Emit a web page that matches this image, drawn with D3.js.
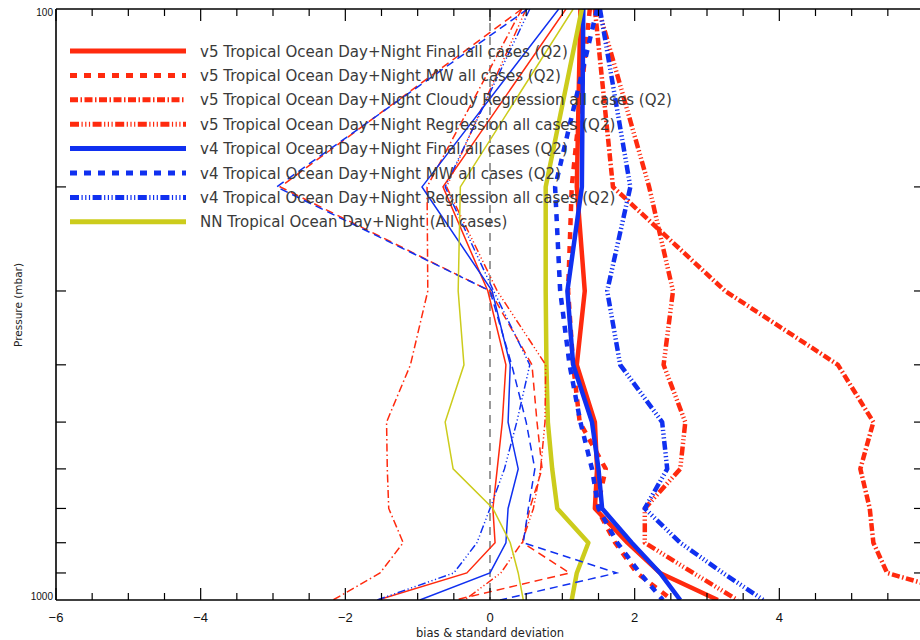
<!DOCTYPE html>
<html><head><meta charset="utf-8">
<script src="https://cdn.jsdelivr.net/npm/d3@7"></script>
<style>html,body{margin:0;padding:0;background:#fff;}svg{display:block;}</style>
</head><body>
<svg id="chart" width="920" height="640"></svg>
<script>
// ---- data ----
const pressure = [100, 200, 300, 400, 500, 600, 700, 800, 900, 1000];

// biases (thin lines)
const v5FinalBias   = [1.05, -0.65, -0.03, 0.22, 0.17, 0.10, 0.04, 0.07, -0.32, -1.55];
const v5MWBias      = [0.44, -2.90, 0.00, 0.58, 0.65, 0.72, 0.55, 0.45, 1.10, -0.48];
const v5CloudyBias  = [0.44, -0.87, -0.86, -1.10, -1.43, -1.42, -1.40, -1.20, -1.52, -2.17];
const v5RegBias     = [0.50, -0.60, 0.10, 0.77, 0.76, 0.70, 0.60, 0.44, 0.15, -0.35];
const v4FinalBias   = [0.95, -0.94, 0.03, 0.28, 0.25, 0.39, 0.25, 0.22, 0.00, -0.97];
const v4MWBias      = [0.52, -2.95, 0.00, 0.30, 0.50, 0.62, 0.53, 0.46, 1.75, 0.14];
const v4RegBias     = [0.55, -0.62, 0.05, 0.55, 0.37, 0.20, 0.00, -0.18, -0.50, -1.56];
const nnBias        = [1.15, -0.41, -0.44, -0.36, -0.62, -0.51, 0.04, 0.28, 0.39, 0.46];

// standard deviations (thick lines)
const v5FinalStd    = [1.25, 1.20, 1.31, 1.20, 1.45, 1.48, 1.45, 1.90, 2.35, 3.15];
const v5MWStd       = [1.38, 1.13, 1.08, 1.15, 1.24, 1.60, 1.48, 1.73, 2.03, 2.52];
const v5CloudyStd   = [1.45, 1.70, 3.25, 4.81, 5.30, 5.12, 5.25, 5.30, 5.49, 6.80];
const v5RegStd      = [1.50, 2.20, 2.53, 2.40, 2.70, 2.63, 2.14, 2.14, 2.81, 3.42];
const v4FinalStd    = [1.29, 1.27, 1.07, 1.15, 1.41, 1.50, 1.55, 1.96, 2.35, 2.63];
const v4MWStd       = [1.48, 0.90, 0.97, 1.10, 1.25, 1.41, 1.50, 1.76, 2.07, 2.39];
const v4RegStd      = [1.52, 1.94, 1.62, 1.80, 2.38, 2.45, 2.14, 2.63, 3.22, 3.78];
const nnStd         = [1.27, 0.77, 0.77, 0.78, 0.80, 0.86, 0.93, 1.36, 1.20, 1.13];

const legendLabels = [
  "v5 Tropical Ocean Day+Night Final all cases (Q2)",
  "v5 Tropical Ocean Day+Night MW all cases (Q2)",
  "v5 Tropical Ocean Day+Night Cloudy Regression all cases (Q2)",
  "v5 Tropical Ocean Day+Night Regression all cases (Q2)",
  "v4 Tropical Ocean Day+Night Final all cases (Q2)",
  "v4 Tropical Ocean Day+Night MW all cases (Q2)",
  "v4 Tropical Ocean Day+Night Regression all cases (Q2)",
  "NN Tropical Ocean Day+Night (All cases)"
];
const xTickValues = [-6, -4, -2, 0, 2, 4];
const yLabelValues = [100, 1000];
const xTitle = "bias & standard deviation";
const yTitle = "Pressure (mbar)";

// ---- styles ----
const RED = "#ff2a0e", BLUE = "#1030f0", YEL = "#cccc1c";
const styleDefs = [
  {color: RED,  dash: null},
  {color: RED,  dash: "7,7"},
  {color: RED,  dash: "8,2.5,1.5,2.5"},
  {color: RED,  dash: "9,2.5,1.2,2.5,1.2,2.5,1.2,2.5"},
  {color: BLUE, dash: null},
  {color: BLUE, dash: "7,7"},
  {color: BLUE, dash: "9,2.5,1.2,2.5,1.2,2.5,1.2,2.5"},
  {color: YEL,  dash: null}
];
const thinDash = [null, "8,5", "8,3,1.5,3", "8,2.5,1.2,2.5,1.2,2.5,1.2,2.5", null, "8,5", "8,2.5,1.2,2.5,1.2,2.5,1.2,2.5", null];
const biasSeries = [v5FinalBias, v5MWBias, v5CloudyBias, v5RegBias, v4FinalBias, v4MWBias, v4RegBias, nnBias];
const stdSeries  = [v5FinalStd, v5MWStd, v5CloudyStd, v5RegStd, v4FinalStd, v4MWStd, v4RegStd, nnStd];

// ---- layout ----
const svg = d3.select("#chart");
const L = 56, R = 924, T = 9, B = 600;
const x = d3.scaleLinear().domain([-6, 6]).range([L, R]);
const y = d3.scaleLog().domain([100, 1000]).range([T, B]);

svg.append("defs").append("clipPath").attr("id", "clip")
  .append("rect").attr("x", L).attr("y", T).attr("width", R - L).attr("height", B - T);

const plot = svg.append("g").attr("clip-path", "url(#clip)");

// zero line
plot.append("line")
  .attr("x1", x(0)).attr("x2", x(0)).attr("y1", y(100)).attr("y2", y(1000))
  .attr("stroke", "#555").attr("stroke-width", 1.2).attr("stroke-dasharray", "8,6");

const line = d3.line().x(d => x(d[0])).y(d => y(d[1]));

// thick std lines
stdSeries.forEach((s, i) => {
  plot.append("path")
    .attr("d", line(s.map((v, k) => [v, pressure[k]])))
    .attr("fill", "none").attr("stroke", styleDefs[i].color)
    .attr("stroke-width", 4.5)
    .attr("stroke-dasharray", styleDefs[i].dash)
    .attr("stroke-linejoin", "round");
});
// thin bias lines
biasSeries.forEach((s, i) => {
  plot.append("path")
    .attr("d", line(s.map((v, k) => [v, pressure[k]])))
    .attr("fill", "none").attr("stroke", styleDefs[i].color)
    .attr("stroke-width", 1.5)
    .attr("stroke-dasharray", thinDash[i]);
});

// ---- axes ----
const axisG = svg.append("g").attr("stroke", "#000").attr("stroke-width", 1.6);
axisG.append("line").attr("x1", L).attr("x2", R).attr("y1", T).attr("y2", T);
axisG.append("line").attr("x1", L).attr("x2", R).attr("y1", B).attr("y2", B);
axisG.append("line").attr("x1", L).attr("x2", L).attr("y1", T).attr("y2", B);
axisG.append("line").attr("x1", R).attr("x2", R).attr("y1", T).attr("y2", B);

const minorX = d3.range(-6, 6.01, 0.5);
const tickG = svg.append("g").attr("stroke", "#000").attr("stroke-width", 1.2);
minorX.forEach(v => {
  const major = Math.abs(v / 2 - Math.round(v / 2)) < 1e-6;
  const len = major ? 12 : 7;
  tickG.append("line").attr("x1", x(v)).attr("x2", x(v)).attr("y1", B).attr("y2", B - len);
  tickG.append("line").attr("x1", x(v)).attr("x2", x(v)).attr("y1", T).attr("y2", T + len);
});
const minorY = [200, 300, 400, 500, 600, 700, 800, 900];
minorY.forEach(p => {
  tickG.append("line").attr("x1", L).attr("x2", L + 10).attr("y1", y(p)).attr("y2", y(p));
  tickG.append("line").attr("x1", R).attr("x2", R - 10).attr("y1", y(p)).attr("y2", y(p));
});

const font = "'Liberation Sans', Arial, sans-serif";
svg.append("g").selectAll("text").data(xTickValues).join("text")
  .attr("x", d => x(d)).attr("y", 622)
  .attr("text-anchor", "middle").attr("font-family", font).attr("font-size", 13)
  .attr("fill", "#111")
  .text(d => d < 0 ? "\u2212" + Math.abs(d) : String(d));

svg.append("g").selectAll("text").data(yLabelValues).join("text")
  .attr("x", 53).attr("y", d => d === 100 ? y(d) + 7 : y(d))
  .attr("text-anchor", "end").attr("font-family", font).attr("font-size", 10)
  .attr("fill", "#111")
  .text(d => d);

svg.append("text").attr("x", x(0)).attr("y", 637).attr("text-anchor", "middle")
  .attr("font-family", "'DejaVu Sans', sans-serif").attr("font-size", 11.5).attr("fill", "#222")
  .text(xTitle);
svg.append("text").attr("transform", "translate(22,305) rotate(-90)").attr("text-anchor", "middle")
  .attr("font-family", "'DejaVu Sans', sans-serif").attr("font-size", 10.5).attr("fill", "#222")
  .text(yTitle);

// ---- legend ----
const legRows = d3.range(legendLabels.length);
const legY = i => 51 + i * 24.4;
const leg = svg.append("g");
legRows.forEach(i => {
  leg.append("line").attr("x1", 70).attr("x2", 186).attr("y1", legY(i)).attr("y2", legY(i))
    .attr("stroke", styleDefs[i].color).attr("stroke-width", 5)
    .attr("stroke-dasharray", styleDefs[i].dash);
});
const legText = leg.selectAll("text.leg").data(legendLabels).join("text")
  .attr("class", "leg")
  .attr("x", 200).attr("y", (d, i) => legY(i) + 5.5)
  .attr("font-family", "'DejaVu Sans', sans-serif").attr("font-size", 14)
  .attr("fill", "#3a3a3a")
  .text(d => d);
// scale font so first row spans ~368px as in reference
const w0 = legText.node().getComputedTextLength();
const fs = 14 * 368 / w0;
legText.attr("font-size", fs);
</script>
</body></html>
